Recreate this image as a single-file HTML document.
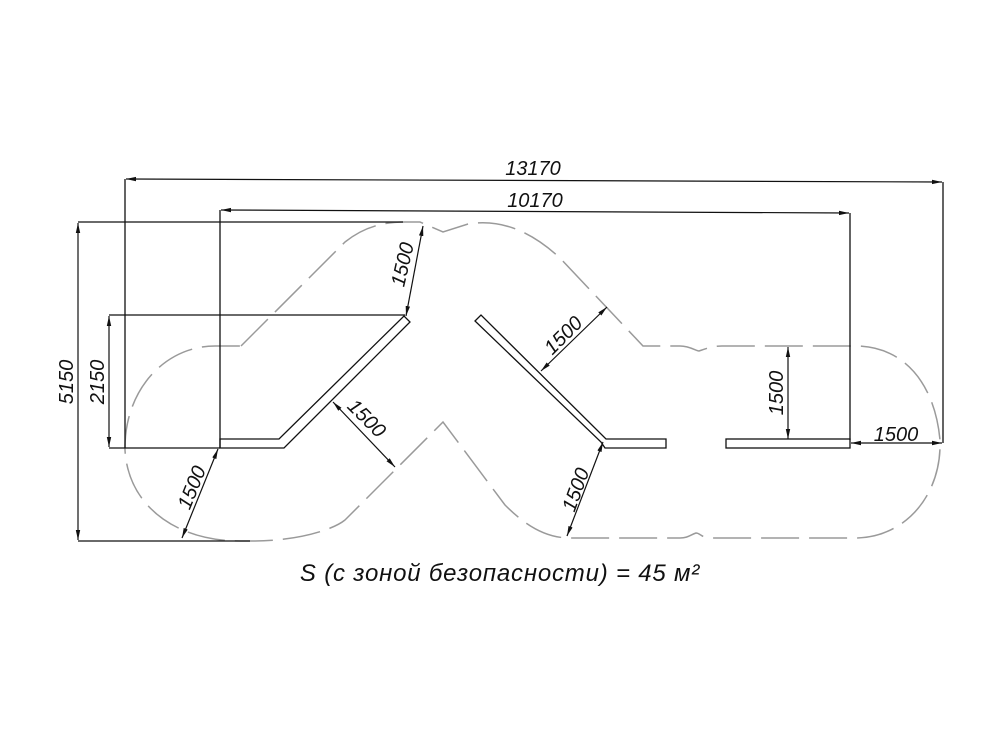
<!DOCTYPE html>
<html><head><meta charset="utf-8"><style>
html,body{margin:0;padding:0;background:#fff}
svg{display:block}
text{font-family:"Liberation Sans",sans-serif;font-style:italic;fill:#111}
</style></head><body>
<svg width="1000" height="750" viewBox="0 0 1000 750" xmlns="http://www.w3.org/2000/svg">
<defs>
<marker id="a" markerWidth="10" markerHeight="6" refX="10" refY="3" orient="auto-start-reverse" markerUnits="userSpaceOnUse">
<path d="M0,0.8 L10,3 L0,5.2 Z" fill="#111"/></marker>
</defs>
<path d="M241,346 L345,242 C365,226 385,222 405,222 L420,222 L443,232 L468,224 C505,218 535,235 560,258 L643,346 L680,346 C690,346 696,351 699,351 C705,349 712,346 722,346 L855,346 C905,346 935,385 940,440 C942,495 905,538 855,538 L710,538 C702,538 700,533 696,533 C690,535 688,538 680,538 L570,538 C545,538 525,525 505,505 L443,422 L345,520 C330,532 290,541 255,541 L240,541 C175,541 128,505 125,450 C124,390 165,346 215,346 Z" fill="none" stroke="#9a9a9a" stroke-width="1.5" stroke-dasharray="38,10"/>
<g fill="none" stroke="#111" stroke-width="1.3">
<polyline points="125,448 125,179"/>
<polyline points="943,443 943,182"/>
<polyline points="220,448 220,210"/>
<polyline points="850,440 850,213"/>
<polyline points="78,222 403,222"/>
<polyline points="78,541 250,541"/>
<polyline points="109,315 405,315"/>
<polyline points="109,448 220,448"/>
<polygon points="220,439 279,439 404,316 410,322 284,448 220,448"/>
<polygon points="475,321 481,315 606,439 666,439 666,448 605,448 601,442"/>
<rect x="726" y="439" width="124" height="9"/>
</g>
<g stroke="#111" stroke-width="1.2" marker-start="url(#a)" marker-end="url(#a)" fill="none">
<line x1="126" y1="179" x2="942" y2="182"/>
<line x1="221" y1="210" x2="849" y2="213"/>
<line x1="78" y1="223" x2="78" y2="540"/>
<line x1="109" y1="316" x2="109" y2="447"/>
<line x1="851" y1="443" x2="942" y2="443"/>
<line x1="788" y1="347" x2="788" y2="439"/>
<line x1="406" y1="316" x2="423" y2="226"/>
<line x1="333" y1="402" x2="395" y2="467"/>
<line x1="218" y1="449" x2="182" y2="538"/>
<line x1="541" y1="371" x2="607" y2="307"/>
<line x1="603" y1="442" x2="567" y2="536"/>
</g>
<g font-size="20">
<text x="533" y="175" text-anchor="middle">13170</text>
<text x="535" y="207" text-anchor="middle">10170</text>
<text x="896" y="441" text-anchor="middle">1500</text>
<text transform="translate(73,382) rotate(-90)" text-anchor="middle">5150</text>
<text transform="translate(104,382) rotate(-90)" text-anchor="middle">2150</text>
<text transform="translate(783,393) rotate(-90)" text-anchor="middle">1500</text>
<text transform="translate(409,266) rotate(-77)" text-anchor="middle">1500</text>
<text transform="translate(362,423) rotate(45)" text-anchor="middle">1500</text>
<text transform="translate(198,490) rotate(-68)" text-anchor="middle">1500</text>
<text transform="translate(568,340) rotate(-45)" text-anchor="middle">1500</text>
<text transform="translate(582,492) rotate(-70)" text-anchor="middle">1500</text>
</g>
<text x="500" y="581" font-size="24" letter-spacing="0.8" text-anchor="middle">S (с зоной безопасности) = 45 м²</text>
</svg>
</body></html>
